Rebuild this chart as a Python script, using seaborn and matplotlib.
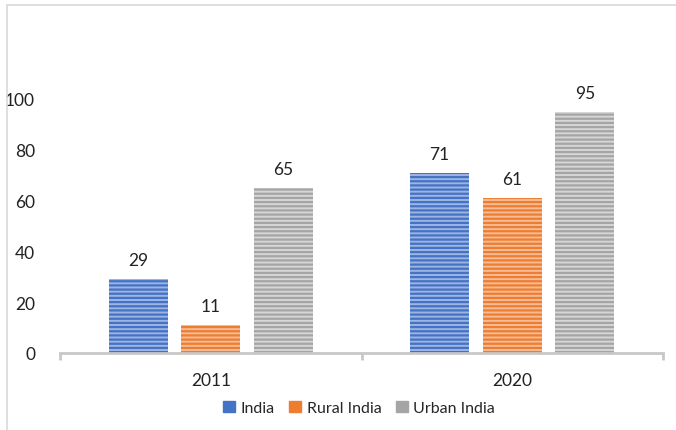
import numpy as np
import pandas as pd
import matplotlib
matplotlib.use("Agg")
import matplotlib.pyplot as plt
import seaborn as sns
from matplotlib.patches import Rectangle

years = ["2011", "2020"]
groups = ["India", "Rural India", "Urban India"]
india = [29, 71]
rural = [11, 61]
urban = [65, 95]

line_colors = ["#4472C4", "#ED7D31", "#A5A5A5"]
face_colors = ["#9DB5E3", "#F6BC96", "#D6D6D6"]

df = pd.DataFrame({
    "year": years * 3,
    "group": [g for g in groups for _ in years],
    "value": india + rural + urban,
})

sns.set_style("white")
plt.rcParams['font.family'] = ['Lato', 'DejaVu Sans']
plt.rcParams['hatch.linewidth'] = 1.6

fig = plt.figure(figsize=(6.76, 4.31), dpi=100)
ax = fig.add_axes([60 / 676, 1 - 354 / 431, (663 - 60) / 676, (354 - 100) / 431])

sns.barplot(data=df, x="year", y="value", hue="group", hue_order=groups,
            palette=face_colors, width=0.723, gap=0.186, ax=ax, legend=True)

for i, cont in enumerate(ax.containers):
    for bar in cont:
        bar.set_facecolor(face_colors[i])
        bar.set_edgecolor(line_colors[i])
        bar.set_hatch("----")
        bar.set_linewidth(0)
    ax.bar_label(cont, padding=8, fontsize=12.5, color="#222222")

ax.set_ylim(0, 100)
ax.set_xlim(-0.5, 1.5)
ax.set_yticks([0, 20, 40, 60, 80, 100])
ax.tick_params(axis="y", length=0, labelsize=12.5, pad=18, labelcolor="#222222")
ax.tick_params(axis="x", which="major", length=0, labelsize=12.5, pad=14, labelcolor="#222222")
ax.set_xticks([-0.5, 0.5, 1.5], minor=True)
ax.tick_params(axis="x", which="minor", bottom=True, length=5, width=2,
               color="#C8C8C8", direction="out")
ax.set_xlabel("")
ax.set_ylabel("")
for s in ["top", "right", "left"]:
    ax.spines[s].set_visible(False)
ax.spines["bottom"].set_color("#C8C8C8")
ax.spines["bottom"].set_linewidth(2)

# legend
handles, labels = ax.get_legend_handles_labels()
ax.legend_.remove()
for h, fc, lc in zip(handles, face_colors, line_colors):
    h.set_facecolor(lc)
    h.set_edgecolor(lc)
    h.set_hatch("")
fig.legend(handles, labels, loc="center", bbox_to_anchor=(359 / 676, 1 - 409 / 431),
           ncol=3, frameon=False, fontsize=11.5, handlelength=0.75, handleheight=0.75,
           handletextpad=0.35, columnspacing=0.9)

# chart border
fig.patches.append(Rectangle((7 / 676, -0.1), 1.2, 1 - 6 / 431 + 0.1, transform=fig.transFigure,
                             fill=False, edgecolor="#D9D9D9", linewidth=1.2))

fig.savefig("out.png", dpi=100)
